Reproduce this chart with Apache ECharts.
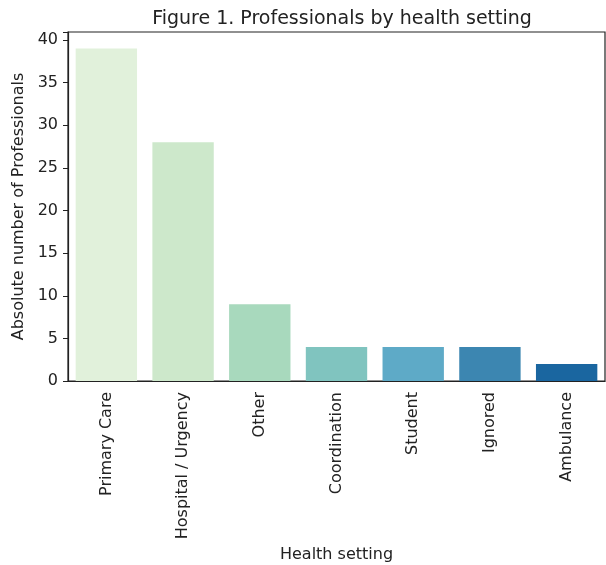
<!DOCTYPE html>
<html><head><meta charset="utf-8">
<script src="https://cdn.jsdelivr.net/npm/echarts@6/dist/echarts.min.js"></script>
<style>html,body{margin:0;padding:0;background:#fff}#c{width:606px;height:565px}</style>
</head><body><div id="c"></div>
<script>
const categories = ["Primary Care","Hospital / Urgency","Other","Coordination","Student","Ignored","Ambulance"];
const values = [39, 28, 9, 4, 4, 4, 2];
const colors = ["#e1f1db","#cde8cb","#a8d9bd","#80c4bf","#5eaac7","#3c86b1","#1a66a0"];
const yTicks = [0,5,10,15,20,25,30,35,40];
const font = "DejaVu Sans";
const chart = echarts.init(document.getElementById('c'));
chart.setOption({
  animation:false,
  title:{text:"Figure 1. Professionals by health setting",left:337,top:5,textAlign:'center',
    textStyle:{fontFamily:font,fontSize:19,fontWeight:'normal',color:'#222'}},
  grid:{left:68,right:1,top:32,bottom:184,outerBoundsMode:'none',containLabel:false,show:true,borderColor:'#222',borderWidth:1.2,backgroundColor:'transparent'},
  xAxis:{type:'category',data:categories,name:"Health setting",nameLocation:'middle',nameGap:162,
    nameTextStyle:{fontFamily:font,fontSize:16,color:'#222'},
    axisLine:{lineStyle:{color:'#222',width:1.2}},
    axisTick:{alignWithLabel:true,length:5,lineStyle:{color:'#222'}},
    axisLabel:{rotate:90,fontFamily:font,fontSize:16,color:'#222',margin:11},
    splitLine:{show:false}},
  yAxis:{type:'value',min:0,max:40.95,interval:5,name:"Absolute number of Professionals",nameLocation:'middle',nameGap:39,
    nameTextStyle:{fontFamily:font,fontSize:16,color:'#222'},
    axisLine:{show:true,lineStyle:{color:'#222',width:1.2}},
    axisTick:{show:true,length:5,lineStyle:{color:'#222'}},
    axisLabel:{fontFamily:font,fontSize:16,color:'#222',margin:10,
      formatter:v=>yTicks.includes(v)?String(v):''},
    splitLine:{show:false}},
  series:[{type:'bar',barWidth:'80%',
    data:values.map((v,i)=>({value:v,itemStyle:{color:colors[i]}}))}]
});
</script></body></html>
